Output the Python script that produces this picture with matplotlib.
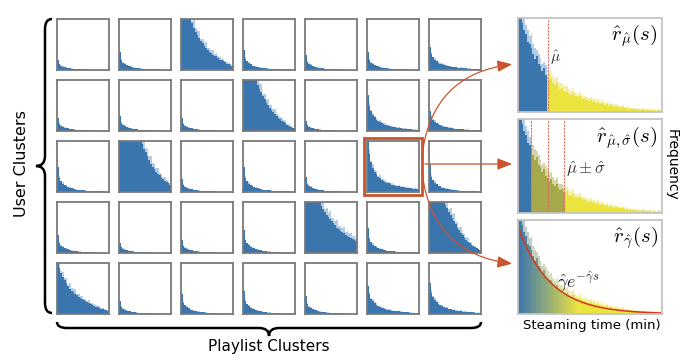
import numpy as np
import matplotlib
matplotlib.use('Agg')
import matplotlib.pyplot as plt
from matplotlib.path import Path
from matplotlib.patches import PathPatch, Rectangle, FancyArrowPatch
from matplotlib.colors import to_rgb

plt.rcParams['mathtext.fontset'] = 'cm'

# ---- data ----
# normalised bar heights of the small histograms (30 bins each)
prof_small = [1.0, 0.55, 0.42, 0.33, 0.27, 0.22, 0.2, 0.16, 0.14, 0.12, 0.11, 0.09, 0.08, 0.08, 0.06,
              0.06, 0.05, 0.05, 0.04, 0.04, 0.03, 0.03, 0.03, 0.02, 0.02, 0.02, 0.02, 0.01, 0.01, 0.01]
prof_mid = [1.0, 0.7, 0.55, 0.45, 0.38, 0.32, 0.28, 0.25, 0.22, 0.2, 0.18, 0.16, 0.15, 0.13, 0.12,
            0.11, 0.1, 0.09, 0.09, 0.08, 0.07, 0.07, 0.06, 0.06, 0.05, 0.05, 0.04, 0.04, 0.04, 0.03]
prof_a = [1, 1, 1, 1, 1, 1, 0.92, 0.82, 0.74, 0.68, 0.62, 0.57, 0.52, 0.47, 0.44,
          0.4, 0.36, 0.34, 0.3, 0.28, 0.27, 0.24, 0.2, 0.19, 0.17, 0.15, 0.12, 0.11, 0.09, 0.07]
prof_b = [1, 1, 1, 1, 1, 1, 1, 1, 0.9, 0.82, 0.76, 0.68, 0.62, 0.55, 0.5,
          0.46, 0.42, 0.37, 0.33, 0.3, 0.26, 0.23, 0.2, 0.18, 0.15, 0.12, 0.1, 0.08, 0.06, 0.05]
prof_c = [1, 1, 1, 1, 1, 1, 1, 1, 1, 1, 1, 1, 1, 0.95, 0.85,
          0.78, 0.7, 0.62, 0.55, 0.5, 0.45, 0.4, 0.36, 0.33, 0.28, 0.25, 0.22, 0.2, 0.17, 0.14]
prof_d = [1, 1, 1, 1, 1, 1, 1, 1, 1, 0.92, 0.86, 0.8, 0.75, 0.7, 0.66,
          0.62, 0.58, 0.54, 0.5, 0.47, 0.44, 0.42, 0.39, 0.36, 0.34, 0.32, 0.3, 0.28, 0.26, 0.24]
prof_e = [1, 1, 1, 1, 1, 1, 1, 1, 1, 0.94, 0.88, 0.8, 0.74, 0.68, 0.62,
          0.56, 0.5, 0.45, 0.4, 0.35, 0.3, 0.26, 0.22, 0.19, 0.16, 0.13, 0.11, 0.09, 0.07, 0.05]
prof_f = [1.0, 0.9, 0.8, 0.72, 0.66, 0.6, 0.55, 0.5, 0.46, 0.43, 0.4, 0.37, 0.34, 0.31, 0.29,
          0.27, 0.25, 0.23, 0.21, 0.19, 0.17, 0.16, 0.14, 0.13, 0.12, 0.1, 0.09, 0.08, 0.07, 0.06]
prof_h = [1.0, 0.75, 0.58, 0.48, 0.4, 0.35, 0.3, 0.27, 0.24, 0.22, 0.2, 0.18, 0.17, 0.15, 0.14,
          0.13, 0.12, 0.11, 0.11, 0.1, 0.09, 0.09, 0.08, 0.08, 0.07, 0.07, 0.06, 0.06, 0.05, 0.05]
# relative overshoot of the pale bars above the dark ones
overshoot = [0.0, 0.12, 0.06, 0.15, 0.08, 0.18, 0.05, 0.2, 0.1, 0.15, 0.22, 0.08, 0.18, 0.12, 0.25,
             0.1, 0.2, 0.15, 0.28, 0.12, 0.22, 0.18, 0.3, 0.15, 0.25, 0.2, 0.32, 0.18, 0.25, 0.22]

profiles = {'s': prof_small, 'm': prof_mid, 'A': prof_a, 'B': prof_b, 'C': prof_c,
            'D': prof_d, 'E': prof_e, 'F': prof_f, 'H': prof_h}

# 5 user clusters x 7 playlist clusters
cell_shape = [['s', 's', 'A', 's', 's', 's', 'm'],
              ['s', 's', 's', 'B', 's', 'm', 'm'],
              ['s', 'C', 's', 's', 's', 'H', 's'],
              ['s', 's', 's', 's', 'D', 's', 'E'],
              ['F', 's', 's', 's', 's', 'm', 'm']]
cell_peak = [[0.2, 0.35, 1.0, 0.4, 0.3, 0.35, 0.45],
             [0.25, 0.3, 0.25, 1.0, 0.2, 0.7, 0.4],
             [0.5, 1.0, 0.25, 0.5, 0.3, 1.0, 0.55],
             [0.35, 0.2, 0.25, 0.45, 1.0, 0.5, 1.0],
             [1.0, 0.25, 0.4, 0.45, 0.35, 0.55, 0.6]]
highlight = (2, 5)

# streaming time histogram of the highlighted cell (80 bins)
time_dark = [1.0, 1.0, 0.92, 0.85, 0.8, 0.72, 0.7, 0.66,
             0.6, 0.55, 0.58, 0.5, 0.47, 0.42, 0.45, 0.38,
             0.36, 0.33, 0.35, 0.3, 0.28, 0.3, 0.26, 0.24,
             0.25, 0.22, 0.21, 0.23, 0.19, 0.18, 0.2, 0.17,
             0.16, 0.15, 0.17, 0.14, 0.13, 0.14, 0.12, 0.11,
             0.12, 0.1, 0.11, 0.09, 0.1, 0.08, 0.09, 0.08,
             0.07, 0.08, 0.06, 0.07, 0.06, 0.05, 0.06, 0.05,
             0.05, 0.04, 0.05, 0.04, 0.04, 0.03, 0.04, 0.03,
             0.03, 0.03, 0.02, 0.03, 0.02, 0.03, 0.02, 0.02,
             0.02, 0.02, 0.01, 0.02, 0.01, 0.01, 0.02, 0.01]
time_light = [1.0, 1.0, 1.0, 0.97, 0.9, 0.85, 0.78, 0.8,
              0.7, 0.66, 0.64, 0.6, 0.55, 0.5, 0.52, 0.48,
              0.44, 0.4, 0.42, 0.37, 0.34, 0.36, 0.31, 0.3,
              0.3, 0.27, 0.27, 0.28, 0.24, 0.22, 0.25, 0.21,
              0.2, 0.19, 0.21, 0.18, 0.17, 0.18, 0.15, 0.14,
              0.15, 0.13, 0.14, 0.12, 0.13, 0.1, 0.12, 0.1,
              0.09, 0.1, 0.08, 0.09, 0.08, 0.07, 0.08, 0.07,
              0.06, 0.06, 0.07, 0.05, 0.06, 0.04, 0.05, 0.04,
              0.04, 0.04, 0.03, 0.04, 0.03, 0.04, 0.03, 0.03,
              0.03, 0.03, 0.02, 0.03, 0.02, 0.02, 0.03, 0.02]
mu_hat = 0.205
sigma_hat = 0.115
gamma_hat = 4.5
gamma_scale = 0.2

BLUE = '#3a75ae'
PALE_BLUE = '#b3cce6'
YELLOW = '#ece43e'
PALE_YELLOW = '#f4efa6'
OLIVE = '#a6a84c'
PALE_OLIVE = '#d6d6a4'
RED = '#c9542e'
LINE_RED = '#e0705c'


def pale(c, k=0.55):
    r, g, b = to_rgb(c)
    return (r + (1 - r) * k, g + (1 - g) * k, b + (1 - b) * k)


def mix(c1, c2, t):
    a, b = np.array(to_rgb(c1)), np.array(to_rgb(c2))
    return tuple(a + (b - a) * t)


fig = plt.figure(figsize=(7, 3.58), dpi=100)
W, H = 700, 358


def px_axes(x, y, w, h):
    return fig.add_axes([x / W, 1 - (y + h) / H, w / W, h / H])


# ---- grid of small histograms ----
for r in range(5):
    for c in range(7):
        ax = px_axes(57 + 62 * c, 19 + 61 * r, 52, 51)
        prof = np.array(profiles[cell_shape[r][c]]) * cell_peak[r][c]
        light = prof * (1 + np.array(overshoot))
        n = len(prof)
        xs = np.arange(n) / n
        ax.bar(xs, light, width=1 / n, align='edge', color=PALE_BLUE, linewidth=0)
        ax.bar(xs, prof, width=1 / n, align='edge', color=BLUE, linewidth=0)
        ax.set_xlim(0, 1)
        ax.set_ylim(0, 1)
        ax.set_xticks([])
        ax.set_yticks([])
        for s in ax.spines.values():
            s.set_color('#7a7a7a')
            s.set_linewidth(1.3)

# ---- right hand panels ----
n = len(time_dark)
xs = np.arange(n) / n
centres = xs + 0.5 / n
panel_tops = [18, 119, 220]
titles = [r'$\hat{r}_{\hat{\mu}}(s)$', r'$\hat{r}_{\hat{\mu},\hat{\sigma}}(s)$', r'$\hat{r}_{\hat{\gamma}}(s)$']

for i, top in enumerate(panel_tops):
    ax = px_axes(518, top, 144, 94)
    if i == 0:
        cols = [BLUE if x < mu_hat else YELLOW for x in centres]
        pcols = [PALE_BLUE if x < mu_hat else PALE_YELLOW for x in centres]
    elif i == 1:
        cols, pcols = [], []
        for x in centres:
            if x < mu_hat - sigma_hat:
                cols.append(BLUE); pcols.append(PALE_BLUE)
            elif x < mu_hat + sigma_hat:
                cols.append(OLIVE); pcols.append(PALE_OLIVE)
            else:
                cols.append(YELLOW); pcols.append(PALE_YELLOW)
    else:
        cols = [mix(BLUE, YELLOW, min(x / 0.42, 1.0)) for x in centres]
        pcols = [pale(mix('#6a8a9a', YELLOW, min(x / 0.42, 1.0)), 0.5) for x in centres]
    ax.bar(xs, time_light, width=1 / n, align='edge', color=pcols, linewidth=0)
    ax.bar(xs, time_dark, width=1 / n, align='edge', color=cols, linewidth=0)
    if i == 0:
        ax.axvline(mu_hat, color=LINE_RED, lw=0.8, ls=(0, (2, 1)))
        ax.text(mu_hat + 0.02, 0.52, r'$\hat{\mu}$', fontsize=11, color='#333333')
    elif i == 1:
        for v in (mu_hat - sigma_hat, mu_hat, mu_hat + sigma_hat):
            ax.axvline(v, color=LINE_RED, lw=0.8, ls=(0, (2, 1)))
        ax.text(0.33, 0.4, r'$\hat{\mu}\pm\hat{\sigma}$', fontsize=12, color='#333333')
    else:
        s = np.linspace(0.005, 1, 300)
        ax.plot(s, gamma_scale * gamma_hat * np.exp(-gamma_hat * s), color='#d03a22', lw=1.1)
        ax.text(0.27, 0.27, r'$\hat{\gamma}e^{-\hat{\gamma}s}$', fontsize=13, color='#222222')
    ax.text(0.97, 0.95, titles[i], transform=ax.transAxes, ha='right', va='top', fontsize=15)
    ax.set_xlim(0, 1)
    ax.set_ylim(0, 0.97)
    ax.set_xticks([])
    ax.set_yticks([])
    for sp in ax.spines.values():
        sp.set_color('#c4c4c4')
        sp.set_linewidth(1.3)

# ---- overlay in pixel coordinates ----
ov = fig.add_axes([0, 0, 1, 1], zorder=10)
ov.set_xlim(0, W)
ov.set_ylim(H, 0)
ov.axis('off')
ov.patch.set_alpha(0)


def brace(x_end, x_line, x_tip, y0, y1, r, vertical=True):
    ym = (y0 + y1) / 2
    pts = [(x_end, y0), (x_line, y0), (x_line, y0 + r),
           (x_line, ym - r), (x_line, ym), (x_tip, ym),
           (x_line, ym), (x_line, ym + r),
           (x_line, y1 - r), (x_line, y1), (x_end, y1)]
    codes = [Path.MOVETO, Path.CURVE3, Path.CURVE3,
             Path.LINETO, Path.CURVE3, Path.CURVE3,
             Path.CURVE3, Path.CURVE3,
             Path.LINETO, Path.CURVE3, Path.CURVE3]
    if not vertical:
        pts = [(b, a) for a, b in pts]
    ov.add_patch(PathPatch(Path(pts, codes), fill=False, lw=1.8, color='black'))


brace(52, 45, 36, 19, 313, 10)
brace(322, 328, 336, 57, 481, 10, vertical=False)

ov.text(22, 164, 'User Clusters', rotation=90, ha='center', va='center', fontsize=11.5)
ov.text(269, 346, 'Playlist Clusters', ha='center', va='center', fontsize=11)
ov.text(672, 165, 'Frequency', rotation=270, ha='center', va='center', fontsize=10)
ov.text(592, 326, 'Steaming time (min)', ha='center', va='center', fontsize=9.5)

# highlighted cell and arrows
hx, hy = 57 + 62 * highlight[1], 19 + 61 * highlight[0]
ov.add_patch(Rectangle((hx - 3, hy - 3), 58, 57, fill=False, ec=RED, lw=2))
arrow_kw = dict(arrowstyle='-|>,head_length=9,head_width=3.5', color=RED, lw=0.9, mutation_scale=1)
ov.add_patch(FancyArrowPatch((hx + 55, 156), (515, 64), connectionstyle='arc3,rad=-0.4', **arrow_kw))
ov.add_patch(FancyArrowPatch((hx + 55, 164), (515, 164), **arrow_kw))
ov.add_patch(FancyArrowPatch((hx + 55, 172), (515, 264), connectionstyle='arc3,rad=0.4', **arrow_kw))

fig.savefig('out.png', dpi=100)
